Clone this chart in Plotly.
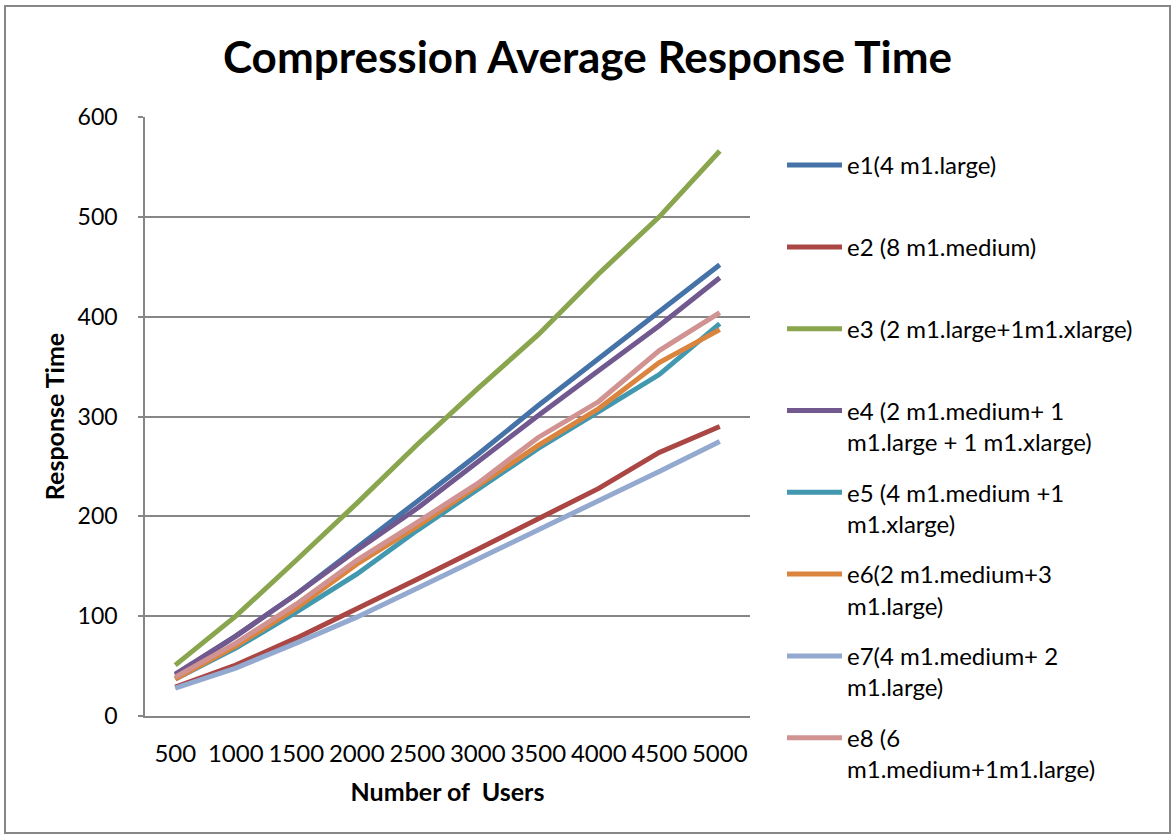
import plotly.graph_objects as go

# Number of users (category axis)
users = ["500", "1000", "1500", "2000", "2500", "3000", "3500", "4000", "4500", "5000"]

# Average response time per configuration
e1 = [41, 80, 122, 168, 215, 262, 311, 358, 405, 452]
e2 = [29, 51, 78, 107, 137, 167, 197, 228, 264, 290]
e3 = [51, 100, 156, 213, 272, 328, 382, 443, 500, 566]
e4 = [42, 80, 122, 166, 208, 255, 301, 346, 391, 439]
e5 = [37, 68, 104, 142, 186, 227, 268, 305, 342, 393]
e6 = [37, 70, 108, 152, 190, 230, 271, 308, 354, 387]
e7 = [28, 48, 73, 99, 128, 157, 186, 216, 245, 275]
e8 = [39, 73, 112, 156, 194, 233, 279, 315, 366, 404]

series_names = [
    "e1(4 m1.large)<br> ",
    "e2 (8 m1.medium)<br> ",
    "e3 (2 m1.large+1m1.xlarge)<br> ",
    "e4 (2 m1.medium+ 1<br>m1.large + 1 m1.xlarge)",
    "e5 (4 m1.medium +1<br>m1.xlarge)",
    "e6(2 m1.medium+3<br>m1.large)",
    "e7(4 m1.medium+ 2<br>m1.large)",
    "e8 (6<br>m1.medium+1m1.large)",
]
series_values = [e1, e2, e3, e4, e5, e6, e7, e8]
series_colors = ["#4572A7", "#AA4643", "#89A54E", "#71588F",
                 "#4198AF", "#DB843D", "#93A9CF", "#D19392"]

FONT = "Lato"
GRID = "#868686"

fig = go.Figure()
for i, (name, vals, col) in enumerate(zip(series_names, series_values, series_colors)):
    fig.add_trace(go.Scatter(
        x=users, y=vals, mode="lines", name=name,
        legendgroup=f"g{i}",
        line=dict(color=col, width=5),
    ))

W, H = 1175, 838
L, R, T, B = 145, 425, 117, 122
pw, ph = W - L - R, H - T - B

fig.update_layout(
    width=W, height=H,
    margin=dict(l=L, r=R, t=T, b=B),
    paper_bgcolor="white", plot_bgcolor="white",
    font=dict(family=FONT, color="black", size=24),
    title=dict(
        text="<b>Compression Average Response Time</b>",
        x=0.5, xanchor="center", y=1 - 58 / H, yanchor="middle",
        font=dict(family=FONT, size=44, color="black"),
    ),
    showlegend=True,
    legend=dict(
        x=(782 - L) / pw, xanchor="left",
        y=1 + (T - 143) / ph, yanchor="top",
        valign="top",
        font=dict(family=FONT, size=24, color="black"),
        tracegroupgap=16.4,
        itemwidth=55,
        maxheight=800,
        bgcolor="rgba(0,0,0,0)",
    ),
    xaxis=dict(
        type="category", range=[-0.5, 9.5],
        showgrid=False, zeroline=False,
        showline=True, linecolor=GRID, linewidth=1.5,
        ticks="", tickfont=dict(size=24),
        ticklabelstandoff=15,
        title=dict(text="<b>Number of\u00a0 Users</b>", font=dict(size=25), standoff=18),
    ),
    yaxis=dict(
        range=[0, 600], tickvals=[0, 100, 200, 300, 400, 500, 600],
        showgrid=True, gridcolor=GRID, gridwidth=1.5,
        zeroline=False,
        showline=True, linecolor=GRID, linewidth=1.5,
        ticks="outside", ticklen=5, tickcolor=GRID, tickwidth=1.5,
        tickfont=dict(size=23),
        ticklabelstandoff=16,
        title=dict(text="<b>Response Time</b>", font=dict(size=25), standoff=6),
    ),
    shapes=[dict(
        type="rect", xref="paper", yref="paper",
        x0=(5 - L) / pw, x1=(1170 - L) / pw,
        y0=1 - (833 - T) / ph, y1=1 - (6 - T) / ph,
        line=dict(color=GRID, width=2), fillcolor="rgba(0,0,0,0)", layer="below",
    )],
)

fig.write_html("out.html")
